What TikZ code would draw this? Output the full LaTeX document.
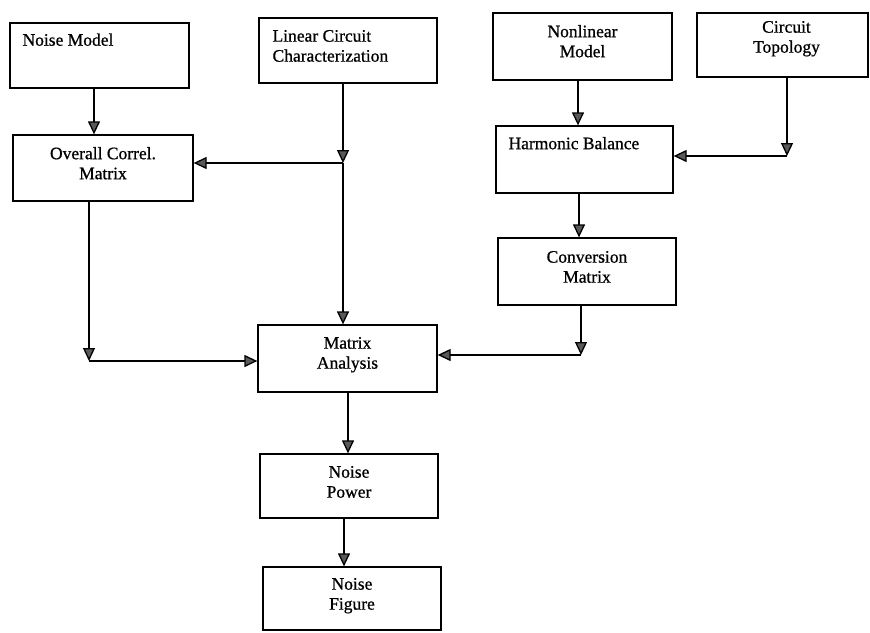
\documentclass[tikz,border=0pt]{standalone}
\usepackage{fontspec}
\setmainfont{Liberation Serif}
\newfontfamily\heavyserif{Liberation Serif}[FakeBold=0.8]
\usetikzlibrary{arrows.meta}
\begin{document}
\begin{tikzpicture}[x=1pt,y=-1pt,
  box/.style={draw=black, line width=1.3pt, inner sep=0pt, rectangle},
  lbl/.style={inner sep=0pt, font=\heavyserif\fontsize{17.5}{20}\selectfont},
  arr/.style={draw=black, line width=1.3pt, -{Triangle[length=13pt,width=12pt,fill=black!65]}}]
\useasboundingbox (0,0) rectangle (870,632);
% boxes
\node[box, minimum width=179pt, minimum height=65pt] (nm) at (99.5,55.5) {};
\node[box, minimum width=178pt, minimum height=65pt] (lc) at (348,50.5) {};
\node[box, minimum width=179pt, minimum height=67pt] (nl) at (582.5,46.5) {};
\node[box, minimum width=171pt, minimum height=64pt] (ct) at (782.5,45) {};
\node[box, minimum width=180pt, minimum height=66pt] (oc) at (103,168) {};
\node[box, minimum width=177pt, minimum height=67pt] (hb) at (584.5,159.5) {};
\node[box, minimum width=178pt, minimum height=67pt] (cm) at (587,271.5) {};
\node[box, minimum width=179pt, minimum height=67pt] (ma) at (347.5,358.5) {};
\node[box, minimum width=178pt, minimum height=64pt] (np) at (349,486) {};
\node[box, minimum width=178pt, minimum height=63pt] (nf) at (352,598.5) {};
% texts
\node[lbl, anchor=north west] (nmt) at ([xshift=13pt,yshift=-11pt]nm.north west) {Noise Model};
\node[lbl, anchor=north west, align=left] (lct) at ([xshift=14pt,yshift=-12.5pt]lc.north west) {Linear Circuit\\Characterization};
\node[lbl, anchor=north, align=center] (nlt) at ([yshift=-12.5pt]nl.north) {Nonlinear\\Model};
\node[lbl, anchor=north, align=center] (ctt) at ([xshift=4pt,yshift=-8.5pt]ct.north) {Circuit\\Topology};
\node[lbl, anchor=north, align=center] (oct) at ([yshift=-12.5pt]oc.north) {Overall Correl.\\Matrix};
\node[lbl, anchor=north west] (hbt) at ([xshift=13pt,yshift=-11.5pt]hb.north west) {Harmonic Balance};
\node[lbl, anchor=north, align=center] (cmt) at ([yshift=-13.5pt]cm.north) {Conversion\\Matrix};
\node[lbl, anchor=north, align=center] (mat) at ([yshift=-12.5pt]ma.north) {Matrix\\Analysis};
\node[lbl, anchor=north, align=center] (npt) at ([yshift=-12.5pt]np.north) {Noise\\Power};
\node[lbl, anchor=north, align=center] (nft) at ([yshift=-11.5pt]nf.north) {Noise\\Figure};
% connectors
\coordinate (xa) at (94,0);
\draw[arr] (nm.south -| xa) -- (oc.north -| xa);
\coordinate (j1) at (343,163);
\draw[arr] (lc.south -| j1) -- (j1);
\draw[arr] (j1) -- (j1 -| oc.east);
\draw[arr] (j1) -- (ma.north -| j1);
\coordinate (j2) at (89,361);
\draw[arr] (oc.south -| j2) -- (j2);
\draw[arr] (j2) -- (j2 -| ma.west);
\coordinate (xb) at (578,0);
\draw[arr] (nl.south -| xb) -- (hb.north -| xb);
\coordinate (j3) at (787,156);
\draw[arr] (ct.south -| j3) -- (j3);
\draw[arr] (j3) -- (j3 -| hb.east);
\coordinate (xc) at (579,0);
\draw[arr] (hb.south -| xc) -- (cm.north -| xc);
\coordinate (j4) at (581,355);
\draw[arr] (cm.south -| j4) -- (j4);
\draw[arr] (j4) -- (j4 -| ma.east);
\coordinate (xd) at (348,0);
\draw[arr] (ma.south -| xd) -- (np.north -| xd);
\coordinate (xe) at (344,0);
\draw[arr] (np.south -| xe) -- (nf.north -| xe);
\end{tikzpicture}
\end{document}
